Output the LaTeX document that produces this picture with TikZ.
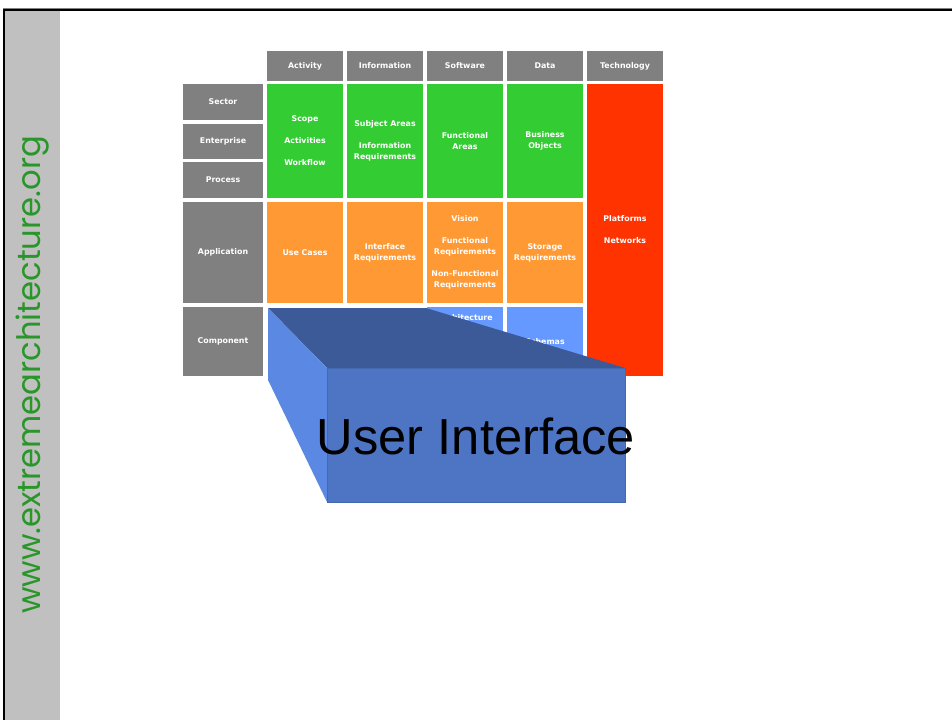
\documentclass[tikz,border=0pt]{standalone}
\usepackage{fontspec}
\setmainfont{DejaVu Sans}
\newfontfamily\sitefont{Poppins}
\newfontfamily\boxfont{Liberation Sans}
\definecolor{cellgray}{RGB}{128,128,128}
\definecolor{cellgreen}{RGB}{51,204,51}
\definecolor{cellorange}{RGB}{255,153,51}
\definecolor{cellblue}{RGB}{102,153,255}
\definecolor{cellred}{RGB}{255,51,0}
\definecolor{sidegray}{RGB}{192,192,192}
\definecolor{sitegreen}{RGB}{40,150,40}
\definecolor{boxtop}{RGB}{61,90,152}
\definecolor{boxside}{RGB}{91,136,226}
\definecolor{boxfront}{RGB}{77,117,196}
\tikzset{
  cell/.style={inner sep=0pt, minimum width=57pt, align=center, text=white,
    font=\fontsize{5.9}{8.25}\selectfont\bfseries},
  rowhead/.style={cell, fill=cellgray, minimum width=60pt},
  colhead/.style={cell, fill=cellgray, minimum height=22.5pt},
}
\begin{document}
\begin{tikzpicture}[x=0.75pt, y=-0.75pt]
    \useasboundingbox [fill=white] (0,0) rectangle (952,720) ;
    % slide frame and side bar
    \fill [sidegray] (5,11) rectangle (60,720) ;
    \draw [gray, line width=0.75pt] (3,8.5) -- (952,8.5) ;
    \draw [line width=1.5pt] (4,720) -- (4,10.5) -- (952,10.5) ;
    \node [rotate=90, text=sitegreen, font=\sitefont\fontsize{24.2}{29}\selectfont] (site) at (33,375) {www.extremearchitecture.org} ;

    % column heads
    \node [colhead] (activity) at (305,66) {Activity} ;
    \node [colhead] (information) at (385,66) {Information} ;
    \node [colhead] (software) at (465,66) {Software} ;
    \node [colhead] (data) at (545,66) {Data} ;
    \node [colhead] (technology) at (625,66) {Technology} ;

    % row heads
    \node [rowhead, minimum height=27pt] (sector) at (223,102) {Sector} ;
    \node [rowhead, minimum height=26.25pt] (enterprise) at (223,141.5) {Enterprise} ;
    \node [rowhead, minimum height=27pt] (process) at (223,180) {Process} ;
    \node [rowhead, minimum height=75.75pt] (application) at (223,252.5) {Application} ;
    \node [rowhead, minimum height=51.75pt] (component) at (223,341.5) {Component} ;

    % business rows
    \node [cell, fill=cellgreen, minimum height=85.5pt] (scope) at (305,141) {Scope\\[8.25pt]Activities\\[8.25pt]Workflow} ;
    \node [cell, fill=cellgreen, minimum height=85.5pt] (subject) at (385,141) {Subject Areas\\[8.25pt]Information\\Requirements} ;
    \node [cell, fill=cellgreen, minimum height=85.5pt] (areas) at (465,141) {Functional\\Areas} ;
    \node [cell, fill=cellgreen, minimum height=85.5pt] (objects) at (545,141) {Business\\Objects} ;

    % application row
    \node [cell, fill=cellorange, minimum height=75.75pt] (usecases) at (305,252.5) {Use Cases} ;
    \node [cell, fill=cellorange, minimum height=75.75pt] (interface) at (385,252.5) {Interface\\Requirements} ;
    \node [cell, fill=cellorange, minimum height=75.75pt] (vision) at (465,252.5) {Vision\\[8.25pt]Functional\\Requirements\\[8.25pt]Non-Functional\\Requirements} ;
    \node [cell, fill=cellorange, minimum height=75.75pt] (storage) at (545,252.5) {Storage\\Requirements} ;

    % component row
    \node [cell, fill=cellblue, minimum height=51.75pt] (swcomp) at (465,341.5) {} ;
    \node [cell] (arch) at (465,318) {Architecture} ;
    \node [cell, fill=cellblue, minimum height=51.75pt] (schemas) at (545,341.5) {Schemas} ;

    % technology column
    \node [cell, fill=cellred, minimum height=219pt] (platforms) at (625,230) {Platforms\\[8.25pt]Networks} ;

    % the user interface box
    \fill [boxtop] (268,308) -- (426,308) -- (625,368) -- (327,368) -- cycle ;
    \fill [boxside] (268,308) -- (327,368) -- (327,502) -- (268,380) -- cycle ;
    \draw [fill=boxfront, draw=boxfront!90!black] (327,368) rectangle (625,502) ;
    \node [font=\boxfont\fontsize{38}{44}\selectfont] (ui) at (476,436) {User Interface} ;
\end{tikzpicture}
\end{document}
